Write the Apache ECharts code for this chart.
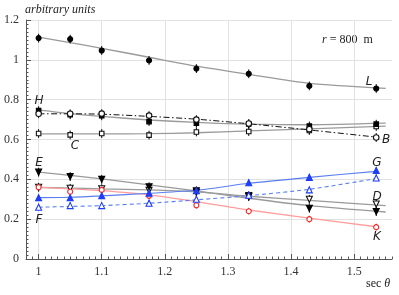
<!DOCTYPE html>
<html><head><meta charset="utf-8">
<script src="https://cdn.jsdelivr.net/npm/echarts@6/dist/echarts.min.js"></script>
<style>html,body{margin:0;padding:0;background:#fff}#c{width:399px;height:295px}</style>
</head><body><div id="c"></div>
<script>
// sec(theta) positions of the measurements
const secTheta = [1, 1.05, 1.1, 1.175, 1.25, 1.333, 1.429, 1.535];
// x positions where the grey fit curves are sampled
const fitX = [1, 1.05, 1.1, 1.175, 1.25, 1.333, 1.429, 1.55];
const xTickLabels = [1, 1.1, 1.2, 1.3, 1.4, 1.5];
const yTickLabels = [0, 0.2, 0.4, 0.6, 0.8, 1, 1.2];

// measured points
const valL = [1.109, 1.104, 1.047, 0.997, 0.956, 0.93, 0.869, 0.856];
const valH = [0.745, 0.725, 0.719, 0.69, 0.682, 0.678, 0.668, 0.677];
const valC = [0.63, 0.623, 0.63, 0.622, 0.638, 0.64, 0.645, 0.665];
const valB = [0.729, 0.729, 0.73, 0.72, 0.70, 0.68, 0.652, 0.61];
const valE = [0.436, 0.414, 0.40, 0.363, 0.343, 0.313, 0.255, 0.238];
const valD = [0.36, 0.355, 0.353, 0.345, 0.335, 0.318, 0.30, 0.276];
const valK = [0.36, 0.338, 0.347, 0.317, 0.27, 0.24, 0.20, 0.16];
const valG = [0.308, 0.308, 0.318, 0.33, 0.343, 0.383, 0.41, 0.444];
const valF = [0.26, 0.268, 0.268, 0.28, 0.30, 0.32, 0.347, 0.407];

// fitted curves (grey ones on fitX, others on secTheta)
const fitL = [1.114, 1.086, 1.058, 1.013, 0.968, 0.927, 0.882, 0.857];
const fitH = [0.749, 0.73, 0.716, 0.698, 0.686, 0.677, 0.674, 0.682];
const fitC = [0.628, 0.628, 0.628, 0.629, 0.634, 0.643, 0.653, 0.667];
const fitE = [0.436, 0.42, 0.402, 0.372, 0.342, 0.305, 0.268, 0.236];
const fitD = [0.36, 0.356, 0.352, 0.347, 0.337, 0.315, 0.294, 0.268];
const fitB = [0.729, 0.729, 0.727, 0.716, 0.702, 0.679, 0.648, 0.612];
const fitK = [0.36, 0.352, 0.343, 0.322, 0.288, 0.246, 0.205, 0.162];
const fitG = [0.308, 0.31, 0.317, 0.33, 0.345, 0.38, 0.41, 0.44];
const fitF = [0.26, 0.264, 0.268, 0.28, 0.297, 0.318, 0.35, 0.404];

// measurement uncertainty
const errBlack = 0.022;
const errColor = 0.017;

const pairs = (xs, ys) => xs.map((x, i) => [x, ys[i]]);

const GREY = '#9a9a9a';
const BLUE = '#1f3df5';
const BLUE_L = '#5a7ef0';
const RED = '#f02828';
const RED_L = '#ff9c9c';

function fitLine(xs, ys, color, type, width) {
  return { type: 'line', data: pairs(xs, ys), smooth: 0.25, showSymbol: false, symbol: 'none',
    lineStyle: { color: color, width: width || 1.3, type: type || 'solid' }, z: 2, silent: true };
}
function marks(ys, symbol, fill, border, size, rotate) {
  return { type: 'scatter', data: pairs(secTheta, ys), symbol: symbol, symbolSize: size,
    symbolRotate: rotate || 0,
    itemStyle: { color: fill, borderColor: border, borderWidth: 1.1, opacity: 1 }, z: 5, silent: true };
}
function errs(ys, err, color) {
  return { type: 'custom', data: secTheta.map((x, i) => [x, ys[i] - err, ys[i] + err]),
    encode: { x: 0, y: [1, 2] }, z: 3, silent: true,
    renderItem: (p, api) => {
      const a = api.coord([api.value(0), api.value(1)]);
      const b = api.coord([api.value(0), api.value(2)]);
      return { type: 'line', shape: { x1: a[0], y1: a[1], x2: b[0], y2: b[1] },
        style: { stroke: color, lineWidth: 1 } };
    } };
}

const minorX = [];
for (let v = 98; v <= 156; v++) minorX.push(v / 100);

const tickFont = { fontFamily: 'Liberation Serif', fontSize: 12, color: '#333' };

const chart = echarts.init(document.getElementById('c'), null, { renderer: 'canvas' });
chart.setOption({
  animation: false,
  backgroundColor: '#fff',
  grid: { left: 26, right: 7, top: 20, bottom: 36, containLabel: false },
  xAxis: [{
    type: 'value', min: 0.98, max: 1.56,
    axisLine: { show: true, onZero: false, lineStyle: { color: '#555', width: 1 } },
    axisTick: { show: true, inside: true, length: 5, customValues: xTickLabels, lineStyle: { color: '#555' } },
    axisLabel: Object.assign({ customValues: xTickLabels, margin: 7 }, tickFont),
    splitLine: { show: true, lineStyle: { color: '#e2e2e2', width: 1 } }
  }, {
    type: 'value', min: 0.98, max: 1.56, position: 'bottom',
    axisLine: { show: false },
    axisTick: { show: true, inside: true, length: 2.5, customValues: minorX, lineStyle: { color: '#555' } },
    axisLabel: { show: false }, splitLine: { show: false }
  }],
  yAxis: {
    type: 'value', min: 0, max: 1.2, interval: 0.2,
    axisLine: { show: true, onZero: false, lineStyle: { color: '#555', width: 1 } },
    axisTick: { show: true, inside: true, length: 5, lineStyle: { color: '#555' } },
    minorTick: { show: true, splitNumber: 10, length: 2.5, lineStyle: { color: '#555' } },
    axisLabel: Object.assign({ margin: 7, formatter: v => String(yTickLabels.find(t => Math.abs(t - v) < 1e-9) ?? v) }, tickFont),
    splitLine: { show: true, lineStyle: { color: '#e2e2e2', width: 1 } }
  },
  series: [
    fitLine(fitX, fitL, GREY), fitLine(fitX, fitH, GREY), fitLine(fitX, fitC, GREY),
    fitLine(fitX, fitE, GREY), fitLine(fitX, fitD, GREY),
    fitLine(secTheta, fitB, '#111', [6, 2.5, 1.5, 2.5], 1),
    fitLine(secTheta, fitK, RED_L),
    fitLine(secTheta, fitG, BLUE_L, 'solid', 1.1),
    fitLine(secTheta, fitF, BLUE_L, [4, 3], 1.1),
    errs(valL, errBlack, '#000'), errs(valH, errBlack, '#000'), errs(valC, errBlack, '#000'),
    errs(valB, errBlack, '#000'), errs(valE, errBlack, '#000'), errs(valD, errBlack, '#000'),
    errs(valK, errColor, RED), errs(valG, errColor, BLUE), errs(valF, errColor, BLUE),
    marks(valC, 'rect', '#fff', '#111', 4.5),
    marks(valH, 'rect', '#000', '#000', 4.5),
    marks(valB, 'circle', '#fff', '#111', 5.5),
    marks(valL, 'circle', '#000', '#000', 5),
    marks(valD, 'triangle', '#fff', '#111', 6, 180),
    marks(valE, 'triangle', '#000', '#000', 6, 180),
    marks(valK, 'circle', '#fff', RED, 5),
    marks(valF, 'triangle', '#fff', BLUE, 6),
    marks(valG, 'triangle', BLUE, BLUE, 6)
  ],
  graphic: [
    { type: 'text', left: 25, top: 4, style: { text: 'arbitrary units', font: 'italic 12px "Liberation Serif"', fill: '#222' } },
    { type: 'text', left: 322, top: 34, style: { text: '{i|r} = 800  m', rich: { i: { fontStyle: 'italic', fontFamily: 'Liberation Serif', fontSize: 12 } }, font: '12px "Liberation Serif"', fill: '#222' } },
    { type: 'text', left: 366, top: 278, style: { text: 'sec {i|θ}', rich: { i: { fontStyle: 'italic', fontFamily: 'Liberation Serif', fontSize: 12 } }, font: '12px "Liberation Serif"', fill: '#222' } },
    ...[['H', 39, 101], ['C', 75, 146], ['L', 369, 82], ['B', 386, 140], ['E', 39, 163],
        ['F', 39, 220], ['G', 377, 163], ['D', 377, 197], ['K', 377, 237]].map(t => ({
      type: 'text', x: t[1], y: t[2], z: 10,
      style: { text: t[0], font: 'italic 12px "DejaVu Sans"', fill: '#222', align: 'center', verticalAlign: 'middle' }
    }))
  ]
});
</script></body></html>
